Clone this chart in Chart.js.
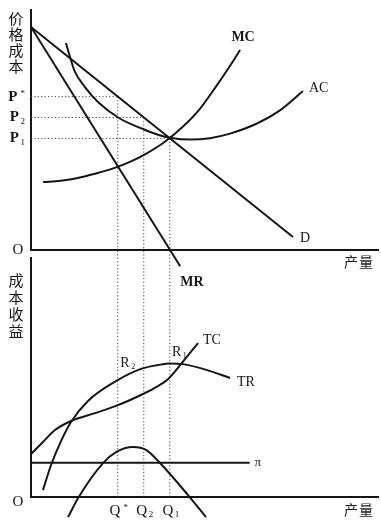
<!DOCTYPE html>
<html><head><meta charset="utf-8">
<script src="https://cdn.jsdelivr.net/npm/chart.js@4.4.0/dist/chart.umd.min.js"></script>
<style>
html,body{margin:0;padding:0;background:#fff;}
#wrap{position:relative;width:381px;height:529px;overflow:hidden;background:#fff;}
canvas{position:absolute;left:0;}
#c1{top:0;}
#c2{top:240px;}
</style></head><body>
<div id="wrap"><canvas id="c1" width="381" height="300"></canvas><canvas id="c2" width="381" height="289"></canvas></div>
<script>
// ---------------- data ----------------
const qTickValues = [10, 13, 16];
const qTickLabels = ['Q*', 'Q2', 'Q1'];
const pTickValues = [63.9, 55.2, 46.5];
const pTickLabels = ['P*', 'P2', 'P1'];

const demandQ = [0, 30.2];
const demandP = [92.9, 5.4];
const mrQ = [0, 17.2];
const mrP = [92.9, -6.8];
const mcQ = [1.4, 3.4, 5.4, 7.4, 9.4, 11.4, 13.4, 15.4, 17.4, 19.4, 21.4, 23.4, 24.1];
const mcP = [28.3, 28.9, 30.0, 31.8, 33.9, 36.7, 40.4, 45.0, 51.0, 58.5, 68.5, 79.3, 83.3];
const acQ = [4.03, 4.5, 5.07, 6.22, 7.72, 10.14, 12.91, 14.64, 16.0, 18.33, 20.63, 22.94, 26.05, 28.7, 31.35];
const acP = [86.25, 80.4, 74.2, 67.9, 61.7, 55.0, 50.4, 48.0, 46.8, 46.0, 46.6, 48.5, 52.7, 58.2, 66.25];

const trQ = [1.38, 2.31, 3.46, 4.61, 6.57, 9.8, 12.68, 14.64, 16.0, 17.5, 20.3, 22.94];
const trV = [2.9, 13.4, 23.4, 31.4, 40.2, 48.5, 53.6, 55.2, 55.9, 55.6, 53.1, 49.8];
const tcQ = [0, 1.38, 2.77, 4.61, 7.38, 9.8, 12.91, 14.64, 15.79, 17.4, 19.25];
const tcV = [18.0, 23.0, 28.0, 31.8, 35.1, 38.1, 43.1, 46.4, 49.3, 56.1, 64.4];
const profitQ = [4.27, 5.5, 8.3, 9.8, 11.76, 13.26, 14.87, 18.1, 20.17];
const profitV = [-8.4, 0, 14.2, 18.8, 20.9, 19.7, 14.2, 0.8, -8.4];
const piLineQ = [0, 25.2];
const piLineV = [14.35, 14.35];

const R1pos = [16.25, 60.7];
const R2pos = [10.3, 56.0];

// ---------------- helpers ----------------
const INK = '#151515';
const SERIF = '"Liberation Serif", "DejaVu Serif", serif';
const CJK = '"Noto Sans CJK SC", sans-serif';
const zip = (xs, ys) => xs.map((x, i) => ({x, y: ys[i]}));

function curve(data, opts) {
  return Object.assign({
    data, borderColor: INK, borderWidth: 2, pointRadius: 0, fill: false,
    tension: 0, clip: false
  }, opts || {});
}
function smooth(data, opts) {
  return curve(data, Object.assign({cubicInterpolationMode: 'monotone'}, opts || {}));
}
function dotted(data) {
  return curve(data, {borderWidth: 1, borderColor: '#444', borderDash: [1.2, 2.2]});
}

function drawScripted(ctx, str, x, y, size, bold, align) {
  const main = str[0], script = str.slice(1);
  const mainFont = (bold ? 'bold ' : '') + size + 'px ' + SERIF;
  const scrFont = Math.round(size * 0.6) + 'px ' + SERIF;
  ctx.font = mainFont; const w1 = ctx.measureText(main).width;
  ctx.font = scrFont; const w2 = ctx.measureText(script).width;
  const gap = script === '*' ? 3 : 1.5;
  const total = w1 + gap + w2;
  let left = x;
  if (align === 'right') left = x - total; else if (align === 'center') left = x - total / 2;
  ctx.textAlign = 'left'; ctx.textBaseline = 'middle';
  ctx.font = mainFont; ctx.fillText(main, left, y);
  ctx.font = scrFont;
  ctx.fillText(script, left + w1 + gap, script === '*' ? y - 3 : y + 4);
}

const annotPlugin = {
  id: 'annot',
  afterDatasetsDraw(chart, args, o) {
    const ctx = chart.ctx, xs = chart.scales.x, ys = chart.scales.y, ca = chart.chartArea;
    ctx.save();
    ctx.fillStyle = INK;
    ctx.textBaseline = 'middle';
    (o.items || []).forEach(it => {
      ctx.font = it.font; ctx.textAlign = it.align || 'left';
      ctx.fillText(it.text, xs.getPixelForValue(it.x) + (it.dx || 0), ys.getPixelForValue(it.y) + (it.dy || 0));
    });
    (o.scripted || []).forEach(it => {
      drawScripted(ctx, it.text, xs.getPixelForValue(it.x) + (it.dx || 0), ys.getPixelForValue(it.y) + (it.dy || 0), it.size, it.bold, it.align);
    });
    if (o.yTicks) o.yTicks.values.forEach((v, i) => {
      drawScripted(ctx, o.yTicks.labels[i], ca.left - 6, ys.getPixelForValue(v), 15, true, 'right');
    });
    if (o.xTicks) o.xTicks.values.forEach((v, i) => {
      drawScripted(ctx, o.xTicks.labels[i], xs.getPixelForValue(v) + 1, ca.bottom + 14, 15, false, 'center');
    });
    // origin
    ctx.font = '15px ' + SERIF; ctx.textAlign = 'center';
    ctx.fillText('O', ca.left - 13, ca.bottom + (o.oDy || 0));
    // x title
    ctx.font = '14px ' + CJK;
    const xt = o.xTitle;
    for (let i = 0; i < xt.length; i++) ctx.fillText(xt[i], ca.right - 27 + i * 15, ca.bottom + o.xTitleDy);
    // vertical y title
    ctx.font = '15px ' + CJK;
    const yt = o.yTitle;
    for (let i = 0; i < yt.length; i++) ctx.fillText(yt[i], ca.left - 15, ca.top + o.yTitleTop + i * o.yTitleStep);
    ctx.restore();
  }
};

function axes(ymin, ymax) {
  const common = {
    type: 'linear', display: true,
    grid: {display: false, drawTicks: false},
    ticks: {display: false},
    border: {display: true, color: INK, width: 2}
  };
  return {
    x: Object.assign({}, common, {min: 0, max: 40}),
    y: Object.assign({}, common, {min: ymin, max: ymax})
  };
}

Chart.register(annotPlugin);

// ---------------- top chart ----------------
const topDatasets = [
  curve(zip(demandQ, demandP)),
  curve(zip(mrQ, mrP)),
  smooth(zip(mcQ, mcP)),
  smooth(zip(acQ, acP))
];
pTickValues.forEach((p, i) => {
  topDatasets.push(dotted([{x: 0, y: p}, {x: qTickValues[i], y: p}]));
  topDatasets.push(dotted([{x: qTickValues[i], y: p}, {x: qTickValues[i], y: 0}]));
});

new Chart(document.getElementById('c1'), {
  type: 'line',
  data: {datasets: topDatasets},
  options: {
    responsive: false, animation: false, maintainAspectRatio: false,
    layout: {padding: {left: 31, right: 3, top: 10, bottom: 50}},
    scales: axes(0, 100),
    plugins: {
      legend: {display: false}, tooltip: {enabled: false},
      annot: {
        items: [
          {text: 'MC', x: mcQ[mcQ.length - 1], y: mcP[mcP.length - 1], dx: 3, dy: -13, align: 'center', font: 'bold 14px ' + SERIF},
          {text: 'AC', x: acQ[acQ.length - 1], y: acP[acP.length - 1], dx: 6, dy: -3, align: 'left', font: '14px ' + SERIF},
          {text: 'D', x: demandQ[1], y: demandP[1], dx: 7, dy: 1, align: 'left', font: '14px ' + SERIF},
          {text: 'MR', x: mrQ[1], y: mrP[1], dx: 0, dy: 16, align: 'left', font: 'bold 14px ' + SERIF}
        ],
        yTicks: {values: pTickValues, labels: pTickLabels},
        xTitle: '产量', xTitleDy: 12,
        yTitle: '价格成本', yTitleTop: 8, yTitleStep: 16, oDy: 0
      }
    }
  }
});

// ---------------- bottom chart ----------------
const botDatasets = [
  smooth(zip(tcQ, tcV)),
  smooth(zip(trQ, trV)),
  smooth(zip(profitQ, profitV)),
  curve(zip(piLineQ, piLineV))
];
qTickValues.forEach(q => {
  botDatasets.push(dotted([{x: q, y: 0}, {x: q, y: 104}]));
});

new Chart(document.getElementById('c2'), {
  type: 'line',
  data: {datasets: botDatasets},
  options: {
    responsive: false, animation: false, maintainAspectRatio: false,
    layout: {padding: {left: 31, right: 3, top: 18, bottom: 32}},
    scales: axes(0, 100),
    plugins: {
      legend: {display: false}, tooltip: {enabled: false},
      annot: {
        items: [
          {text: 'TC', x: tcQ[tcQ.length - 1], y: tcV[tcV.length - 1], dx: 5, dy: -3, align: 'left', font: '14px ' + SERIF},
          {text: 'TR', x: trQ[trQ.length - 1], y: trV[trV.length - 1], dx: 7, dy: 4, align: 'left', font: '14px ' + SERIF},
          {text: 'π', x: piLineQ[1], y: piLineV[1], dx: 5, dy: 0, align: 'left', font: '13px ' + SERIF}
        ],
        scripted: [
          {text: 'R1', x: R1pos[0], y: R1pos[1], size: 14, bold: false, align: 'left'},
          {text: 'R2', x: R2pos[0], y: R2pos[1], size: 14, bold: false, align: 'left'}
        ],
        xTicks: {values: qTickValues, labels: qTickLabels},
        xTitle: '产量', xTitleDy: 13,
        yTitle: '成本收益', yTitleTop: 22, yTitleStep: 17, oDy: 5
      }
    }
  }
});
</script>
</body></html>
